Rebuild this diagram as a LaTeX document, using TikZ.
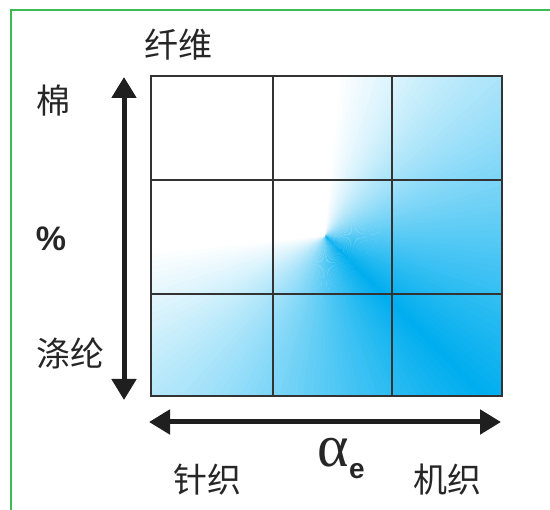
\documentclass[tikz,border=0pt]{standalone}
\usepackage{fontspec}
\setmainfont{Liberation Sans}
\newfontfamily\cjk{Noto Sans CJK SC}
\newfontfamily\greek{Liberation Serif}
\usetikzlibrary{arrows.meta}
\usepackage{xcolor}
\definecolor{fibre}{RGB}{0,174,239}
\definecolor{framegreen}{RGB}{60,186,84}
\newcommand{\cjklabel}[4] {
    \node[cjktext] (#1) at (#2, #3) {#4};
}
\tikzset{
    cjktext/.style={
        font=\cjk\fontsize{34}{40}\selectfont,
        text=black!85,
        inner sep=0pt
    },
    bigarrow/.style={
        line width=5pt,
        draw=black!88,
        {Triangle[length=21pt,width=24pt]}-{Triangle[length=21pt,width=24pt]}
    },
    cellline/.style={line width=1.3pt,draw=black!80},
    boxline/.style={line width=2.6pt,draw=black!80}
}

\begin{document}
\begin{tikzpicture}[x=1pt,y=-1pt]
    \useasboundingbox (0,0) rectangle (550,510);
    \draw[framegreen,line width=2pt] (11,510) -- (11,10) -- (550,10);
    % conic fill of the grid
    \coordinate (apex) at (325,236);
    \begin{scope}
        \clip (151,76) rectangle (502,396);
        \foreach \a in {0,2,...,358} {
            \pgfmathsetmacro{\dist}{min(abs(\a+1-225),360-abs(\a+1-225))}
            \pgfmathsetmacro{\pct}{max(0,min(100,(\dist-50)/1.3))}
            \fill[fibre!\pct] (apex) -- ([shift={(\a:420)}]apex)
                -- ([shift={(\a+2.4:420)}]apex) -- cycle;
        }
    \end{scope}
    \foreach \x in {273,392}
        \draw[cellline] (\x,76) -- (\x,396);
    \foreach \y in {180,294}
        \draw[cellline] (151,\y) -- (502,\y);
    \draw[boxline] (151,76) rectangle (502,396);
    % axes
    \coordinate (cotton) at (124,77);
    \coordinate (polyester) at (124,400);
    \coordinate (knit) at (149,422);
    \coordinate (woven) at (501,422);
    \draw[bigarrow] (cotton) -- (polyester);
    \draw[bigarrow] (knit) -- (woven);
    % labels
    \cjklabel{fibrelabel}{178}{45}{纤维}
    \cjklabel{cottonlabel}{53}{101}{棉}
    \cjklabel{polylabel}{71}{353}{涤纶}
    \cjklabel{knitlabel}{207}{480}{针织}
    \cjklabel{wovenlabel}{447}{480}{机织}
    \node[font=\bfseries\fontsize{34}{40}\selectfont,inner sep=0pt,text=black!85]
        (percent) at (51,239) {\%};
    \node[font=\greek\fontsize{60}{64}\selectfont,inner sep=0pt,text=black!85]
        (alpha) at (333,453) {α};
    \node[font=\bfseries\fontsize{28}{30}\selectfont,inner sep=0pt,text=black!85]
        (alphasub) at (357,471) {e};
\end{tikzpicture}
\end{document}
